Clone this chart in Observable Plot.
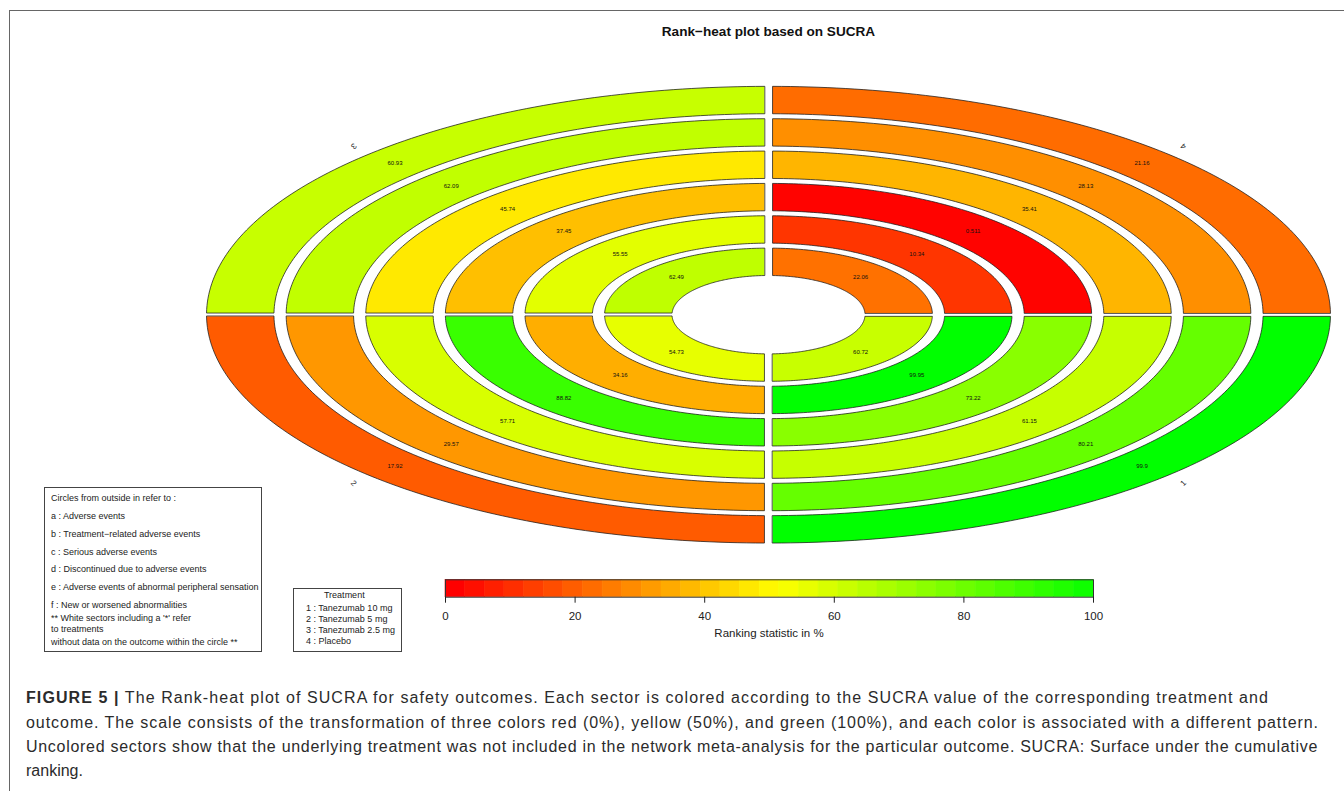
<!DOCTYPE html>
<html>
<head>
<meta charset="utf-8">
<script src="https://cdn.jsdelivr.net/npm/d3@7"></script>
<script src="https://cdn.jsdelivr.net/npm/@observablehq/plot@0.6"></script>
<style>
  html, body { margin: 0; padding: 0; background: #fff; }
  body { width: 1344px; height: 791px; position: relative; overflow: hidden;
         font-family: "Liberation Sans", Arial, Helvetica, sans-serif; color: #222; }
  .abs { position: absolute; white-space: nowrap; line-height: 1; }
  #border { position: absolute; left: 9px; top: 10px; width: 1340px; height: 790px;
            border-top: 1px solid #666; border-left: 1px solid #666; }
  .box { position: absolute; box-sizing: border-box; border: 1px solid #444; background: #fff; }
  .cap { position: absolute; left: 26px; white-space: nowrap; font-size: 16px; line-height: 1; color: #2b2b2b;
         font-family: "Liberation Sans", Arial, sans-serif; }
</style>
</head>
<body>
<div id="chart" class="abs" style="left:0;top:0"></div>
<div id="bar" class="abs" style="left:0;top:560px"></div>
<div id="border"></div>
<div id="overlay"></div>
<script>
// ---------------- data ----------------
const treatmentIds = ["1", "2", "3", "4"];
const treatmentNames = ["Tanezumab 10 mg", "Tanezumab 5 mg", "Tanezumab 2.5 mg", "Placebo"];
const outcomeIds = ["a", "b", "c", "d", "e", "f"];
const outcomeNames = [
  "Adverse events",
  "Treatment\u2212related adverse events",
  "Serious adverse events",
  "Discontinued due to adverse events",
  "Adverse events of abnormal peripheral sensation",
  "New or worsened abnormalities"
];
// SUCRA (%) per treatment, outcomes a..f (outer circle to inner circle)
const sucraT1 = [99.9, 80.21, 61.15, 73.22, 99.95, 60.72];
const sucraT2 = [17.92, 29.57, 57.71, 88.82, 34.16, 54.73];
const sucraT3 = [60.93, 62.09, 45.74, 37.45, 55.55, 62.49];
const sucraT4 = [21.16, 28.13, 35.41, 0.511, 10.34, 22.06];
const colorTicks = [0, 20, 40, 60, 80, 100];

// ---------------- layout ----------------
const sucra = [sucraT1, sucraT2, sucraT3, sucraT4];
const quadrantStart = [270, 180, 90, 0]; // degrees (counter-clockwise from east) for treatments 1..4
const HOLE = 39.2, PERIOD = 32.35, THICK = 27.4, HALFGAP = 1.65, SX = 2.461;
const R_OUT = HOLE + 5 * PERIOD + THICK;
const CX = 768, CY = 314.2, W = 1344, H = 660;
const rad = Math.PI / 180;

function sectorPolygon(a0, rin, rout) {
  const n = 96, pts = [];
  const dO = Math.asin(HALFGAP / rout) / rad, dI = Math.asin(HALFGAP / rin) / rad;
  for (let i = 0; i <= n; i++) {
    const a = (a0 + dO) + (90 - 2 * dO) * i / n;
    pts.push([SX * rout * Math.cos(a * rad), rout * Math.sin(a * rad)]);
  }
  for (let i = n; i >= 0; i--) {
    const a = (a0 + dI) + (90 - 2 * dI) * i / n;
    pts.push([SX * rin * Math.cos(a * rad), rin * Math.sin(a * rad)]);
  }
  pts.push(pts[0]);
  return pts;
}

const features = [], labels = [];
treatmentIds.forEach((t, ti) => {
  outcomeIds.forEach((o, oi) => {
    const value = sucra[ti][oi];
    const rin = HOLE + (outcomeIds.length - 1 - oi) * PERIOD;
    const rout = rin + THICK;
    const a0 = quadrantStart[ti];
    features.push({
      type: "Feature",
      properties: {treatment: t, outcome: o, value},
      geometry: {type: "Polygon", coordinates: [sectorPolygon(a0, rin, rout)]}
    });
    const rm = (rin + rout) / 2, am = (a0 + 45) * rad;
    labels.push({lx: SX * rm * Math.cos(am), ly: rm * Math.sin(am), label: String(value)});
  });
});
const sectorLabels = treatmentIds.map((t, ti) => {
  const am = (quadrantStart[ti] + 45), r = R_OUT + 10;
  return {id: t, x: SX * r * Math.cos(am * rad), y: r * Math.sin(am * rad), rot: -(am + 90)};
});

const frameDomain = {type: "Polygon", coordinates: [[
  [-SX * R_OUT, -R_OUT], [SX * R_OUT, -R_OUT], [SX * R_OUT, R_OUT], [-SX * R_OUT, R_OUT], [-SX * R_OUT, -R_OUT]
]]};

const colorScale = {type: "linear", domain: [0, 50, 100], range: ["#ff0000", "#ffff00", "#00ff00"], interpolate: "rgb"};

const chart = Plot.plot({
  width: W, height: H,
  marginLeft: CX - SX * R_OUT, marginRight: W - (CX + SX * R_OUT),
  marginTop: CY - R_OUT, marginBottom: H - (CY + R_OUT),
  projection: {type: "reflect-y", domain: frameDomain, inset: 0, clip: false},
  color: colorScale,
  style: {background: "transparent", fontFamily: "Liberation Sans, Arial, sans-serif"},
  marks: [
    Plot.geo(features, {fill: d => d.properties.value, stroke: "#1a1a1a", strokeWidth: 0.75}),
    Plot.text(labels, {x: "lx", y: "ly", text: "label", fontSize: 6, fill: "#111"}),
    Plot.text(sectorLabels, {x: "x", y: "y", text: "id", rotate: "rot", fontSize: 8, fill: "#222"})
  ]
});
document.getElementById("chart").appendChild(chart);

// ---------------- colour bar ----------------
const nSteps = 33;
const steps = d3.range(nSteps).map(i => ({x1: i * 100 / nSteps, x2: (i + 1) * 100 / nSteps}));
const bar = Plot.plot({
  width: W, height: 90,
  marginLeft: 445, marginRight: W - 1093, marginTop: 19.3, marginBottom: 90 - 36.7,
  x: {domain: [0, 100]},
  y: {domain: [0, 1], axis: null},
  color: colorScale,
  style: {background: "transparent", fontSize: "11.5px", fontFamily: "Liberation Sans, Arial, sans-serif", color: "#222"},
  marks: [
    Plot.rect(steps, {x1: "x1", x2: "x2", y1: 0, y2: 1, fill: d => d.x1, stroke: d => d.x1, strokeWidth: 0.6}),
    Plot.frame({stroke: "#333", strokeWidth: 1}),
    Plot.axisX({ticks: colorTicks, tickSize: 6, tickPadding: 9, label: null, tickFormat: d => String(d)})
  ]
});
document.getElementById("bar").appendChild(bar);

// ---------------- text overlays ----------------
const overlay = document.getElementById("overlay");
function addText(txt, x, cy, size, opts = {}) {
  const el = document.createElement("div");
  el.className = "abs";
  el.textContent = txt;
  el.style.fontSize = size + "px";
  el.style.top = (cy - 0.52 * size) + "px";
  if (opts.bold) el.style.fontWeight = "bold";
  if (opts.color) el.style.color = opts.color;
  (opts.parent || overlay).appendChild(el);
  if (opts.center) el.style.left = (x - el.getBoundingClientRect().width / 2) + "px";
  else el.style.left = x + "px";
  return el;
}
addText("Rank\u2212heat plot based on SUCRA", 768.5, 32.3, 13.6, {bold: true, center: true, color: "#111"});
addText("Ranking statistic in %", 769, 634, 11.5, {center: true});

function addBox(x0, y0, x1, y1) {
  const b = document.createElement("div");
  b.className = "box";
  Object.assign(b.style, {left: x0 + "px", top: y0 + "px", width: (x1 - x0) + "px", height: (y1 - y0) + "px"});
  overlay.appendChild(b);
}
addBox(44.3, 487.3, 261.7, 652.3);
addBox(292.7, 587.7, 401.7, 651.7);

const box1Lines = ["Circles from outside in refer to :"]
  .concat(outcomeIds.map((o, i) => `${o} : ${outcomeNames[i]}`))
  .concat(["** White sectors including a '*' refer", "to treatments", "without data on the outcome within the circle **"]);
const box1Y = [499, 516.7, 534.3, 552.3, 570, 588, 606, 618.3, 629.7, 642.3];
box1Lines.forEach((s, i) => addText(s, 51, box1Y[i], 9));

addText("Treatment", 344.3, 596, 9, {center: true});
const box2Y = [609, 620, 630.7, 641.7];
treatmentIds.forEach((t, i) => addText(`${t} : ${treatmentNames[i]}`, 306, box2Y[i], 9));

// ---------------- caption ----------------
const capLines = [
  ["<b>FIGURE 5 |</b> The Rank-heat plot of SUCRA for safety outcomes. Each sector is colored according to the SUCRA value of the corresponding treatment and", 704, 1269],
  ["outcome. The scale consists of the transformation of three colors red (0%), yellow (50%), and green (100%), and each color is associated with a different pattern.", 729, 1319],
  ["Uncolored sectors show that the underlying treatment was not included in the network meta-analysis for the particular outcome. SUCRA: Surface under the cumulative", 753, 1318],
  ["ranking.", 777, null]
];
capLines.forEach(([html, base, right]) => {
  const el = document.createElement("div");
  el.className = "cap";
  el.innerHTML = html;
  el.style.top = (base - 0.85 * 16) + "px";
  document.body.appendChild(el);
  if (right) {
    const w = el.getBoundingClientRect().width;
    const n = el.textContent.length;
    el.style.letterSpacing = ((right - 26 - w) / n) + "px";
  }
});
</script>
</body>
</html>
